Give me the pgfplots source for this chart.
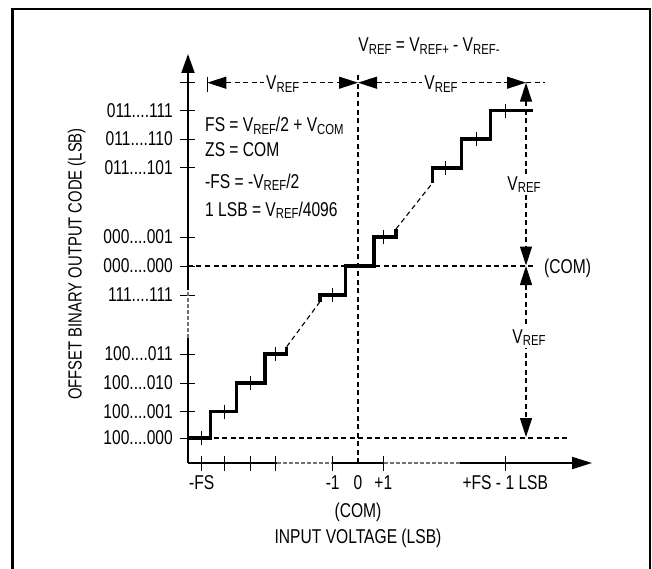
\documentclass[border=0pt]{standalone}
\usepackage{pgfplots}
\pgfplotsset{compat=1.18}
\usetikzlibrary{arrows.meta}
\usepackage{fontspec}
\setmainfont[FakeStretch=0.78]{Liberation Sans}
\newcommand{\sub}[1]{\raisebox{-2.5pt}{\fontsize{14.5}{16}\selectfont #1}}
\newcommand{\vref}{V\sub{REF}}
\newcommand{\dts}{.{}.{}.{}.}
\tikzset{
  dimline/.style={black, line width=1.1pt, dash pattern=on 5pt off 3.5pt},
  tri/.tip={Triangle[length=19pt,width=12pt]},
  axline/.style={black, line width=2pt},
  brk/.style={black!55, line width=2pt, dash pattern=on 4pt off 2pt},
}
\begin{document}
\begin{tikzpicture}[font=\fontsize{20}{24}\selectfont]
\begin{axis}[
  scale only axis, width=404pt, height=409pt,
  xmin=188, xmax=592, ymin=105, ymax=514,
  axis lines=left, axis line style={draw=none},
  clip=false,
  tick align=center, major tick length=15pt,
  tick style={black, line width=1pt},
  xtick={201.7,224.3,250,275.3,332.7,383.3,505.3},
  xticklabels={-FS,,,,-1,+1,+FS - 1 LSB},
  extra x ticks={358}, extra x tick labels={0},
  extra x tick style={tick style={draw=none}},
  ytick={130,156.5,185,214,273,302,331,400.3,429,457.3,485.3},
  yticklabels={100\dts000,100\dts001,100\dts010,100\dts011,111\dts111,000\dts000,000\dts001,011\dts101,011\dts110,011\dts111,{}},
  tick label style={font=\fontsize{20}{24}\selectfont, inner sep=0pt},
  xticklabel style={anchor=base, yshift=-18.7pt},
  yticklabel style={anchor=east, xshift=-7.5pt},
]
% page corners
\coordinate (bl) at (axis cs:0,0);
\coordinate (tr) at (axis cs:652,568);

% frame
\draw[line width=2.5pt] (axis cs:12.3,-10) |- (axis cs:650,559) -- (axis cs:650,-10);

% guide lines
\draw[dimline] (axis cs:358,105) -- (axis cs:358,495);
\draw[dimline] (axis cs:188,302) -- (axis cs:533,302);
\draw[dimline] (axis cs:188,130) -- (axis cs:570,130);

% axes, with breaks
\draw[axline] (axis cs:188,105) -- (axis cs:277,105);
\draw[brk] (axis cs:277,105) -- (axis cs:332,105);
\draw[axline] (axis cs:332,105) -- (axis cs:384,105);
\draw[brk] (axis cs:384,105) -- (axis cs:460,105);
\draw[axline, -{Triangle[length=20pt,width=12pt]}] (axis cs:460,105) -- (axis cs:592,105);
\draw[axline] (axis cs:188,105) -- (axis cs:188,230);
\draw[brk] (axis cs:188,230) -- (axis cs:188,278);
\draw[axline, -{Triangle[length=19pt,width=13pt]}] (axis cs:188,278) -- (axis cs:188,514);

% transfer function
\addplot[black, line width=3.3pt, line join=miter] coordinates {
  (188,130) (210.7,130) (210.7,156.5) (236.7,156.5) (236.7,185)
  (265,185) (265,214) (286.7,214) (286.7,221.3)};
\addplot[black, line width=1.1pt, dash pattern=on 5pt off 3.5pt] coordinates {
  (286.7,221.3) (320,266.3)};
\addplot[black, line width=3.3pt, line join=miter] coordinates {
  (320,266.3) (320,273) (345.7,273) (345.7,302) (374,302) (374,331)
  (396,331) (396,339)};
\addplot[black, line width=1.1pt, dash pattern=on 5pt off 3.5pt] coordinates {
  (396,339) (432.7,385.3)};
\addplot[black, line width=3.3pt, line join=miter] coordinates {
  (432.7,385.3) (432.7,400) (461.7,400) (461.7,429) (490.7,429)
  (490.7,457.3) (533.3,457.3)};
\addplot[only marks, mark=|, mark size=7pt, mark options={black, line width=1pt}] coordinates {
  (201.7,130) (224.3,156.5) (250,185) (275.3,214) (332.3,273)
  (383.3,331) (445.7,400) (476,429) (505,457.3)};

% dimension arrows
\draw[black, line width=1pt] (axis cs:207.3,476.3) -- (axis cs:207.3,491.3);
\draw[dimline, {tri}-{tri}] (axis cs:207.3,485.3) -- (axis cs:358,485.3);
\draw[dimline, {tri}-{tri}] (axis cs:358,485.3) -- (axis cs:526,485.3);
\draw[dimline] (axis cs:526,485.3) -- (axis cs:545,485.3);
\node[fill=white, inner sep=2pt, anchor=base] at (axis cs:282.7,478) {\vref};
\node[fill=white, inner sep=2pt, anchor=base] at (axis cs:441,478) {\vref};
\draw[dimline, {tri}-{tri}] (axis cs:526,485.3) -- (axis cs:526,302.5);
\draw[dimline, {tri}-{tri}] (axis cs:526,302) -- (axis cs:526,131);
\node[fill=white, inner sep=2pt, anchor=base] at (axis cs:524,378) {\vref};
\node[fill=white, inner sep=2pt, anchor=base] at (axis cs:529,225) {\vref};
\node[anchor=base west] at (axis cs:540.7,295) {(COM)};

% texts
\node[anchor=base] at (axis cs:429,516.3) {V\sub{REF} = V\sub{REF+} - V\sub{REF-}};
\node[anchor=base west] at (axis cs:201.7,436.3) {FS = V\sub{REF}/2 + V\sub{COM}};
\node[anchor=base west] at (axis cs:201.7,411.3) {ZS = COM};
\node[anchor=base west] at (axis cs:201.7,379.7) {-FS = -V\sub{REF}/2};
\node[anchor=base west] at (axis cs:201.7,352) {1 LSB = V\sub{REF}/4096};
\node[anchor=base] at (axis cs:358,51) {(COM)};
\node[anchor=base] at (axis cs:358,24.7) {INPUT VOLTAGE (LSB)};
\node[rotate=90, font=\fontsize{19}{22}\selectfont] at (axis cs:76.7,304) {OFFSET BINARY OUTPUT CODE (LSB)};
\end{axis}
\pgfresetboundingbox
\useasboundingbox (bl) rectangle (tr);
\end{tikzpicture}
\end{document}
